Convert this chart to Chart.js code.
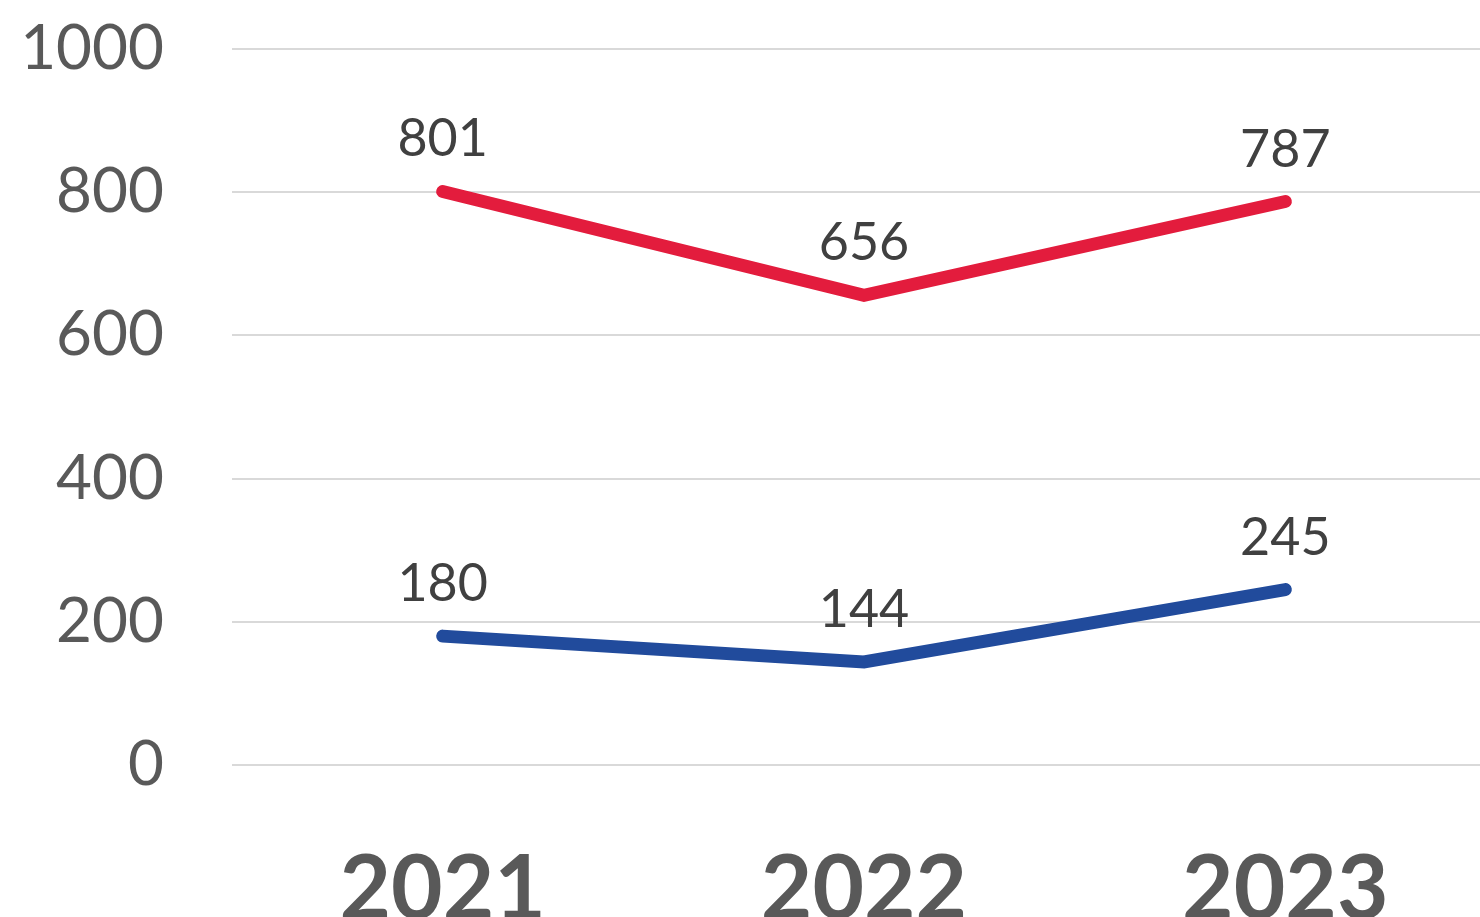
<!DOCTYPE html>
<html>
<head>
<meta charset="utf-8">
<script src="https://cdn.jsdelivr.net/npm/chart.js@4"></script>
<style>
  html, body { margin: 0; padding: 0; background: #fff; overflow: hidden; }
  #wrap { width: 1496px; height: 917px; }
</style>
</head>
<body>
<div id="wrap"><canvas id="trendChart"></canvas></div>
<script>
// Yearly values for the two series
const years = ['2021', '2022', '2023'];
const redValues = [801, 656, 787];
const blueValues = [180, 144, 245];
const yTicks = [0, 200, 400, 600, 800, 1000];

// Draws the value of each point just above it
const pointLabels = {
    id: 'pointLabels',
    afterDatasetsDraw(chart) {
        const ctx = chart.ctx;
        ctx.save();
        ctx.font = '52px Lato';
        ctx.fillStyle = '#404040';
        ctx.textAlign = 'center';
        ctx.textBaseline = 'alphabetic';
        chart.data.datasets.forEach((ds, i) => {
            chart.getDatasetMeta(i).data.forEach((pt, j) => {
                ctx.fillText(String(ds.data[j]), pt.x, pt.y - 35);
            });
        });
        ctx.restore();
    }
};

const ctx = document.getElementById('trendChart');

new Chart(ctx, {
    type: 'line',
    data: {
        labels: years,
        datasets: [{
            data: redValues,
            borderColor: '#E31C3D',
            borderWidth: 13,
            borderCapStyle: 'round',
            borderJoinStyle: 'miter',
            pointRadius: 0,
            tension: 0
        }, {
            data: blueValues,
            borderColor: '#214B9C',
            borderWidth: 13,
            borderCapStyle: 'round',
            borderJoinStyle: 'miter',
            pointRadius: 0,
            tension: 0
        }]
    },
    options: {
        responsive: true,
        maintainAspectRatio: false,
        animation: false,
        layout: { padding: 0 },
        plugins: {
            legend: { display: false },
            tooltip: { enabled: false }
        },
        scales: {
            x: {
                offset: true,
                grid: { display: false, drawTicks: false },
                border: { display: false },
                ticks: {
                    color: '#595959',
                    font: { family: 'Lato', size: 89, weight: 'bold' },
                    padding: 72,
                    maxRotation: 0
                },
                afterFit(scale) { scale.height = 152; }
            },
            y: {
                min: 0,
                max: 1000,
                afterBuildTicks(scale) {
                    scale.ticks = yTicks.map(v => ({ value: v }));
                },
                grid: { color: '#D9D9D9', lineWidth: 2, drawTicks: false },
                border: { display: false },
                ticks: {
                    color: '#595959',
                    font: { family: 'Lato', size: 62 },
                    padding: 68,
                    callback: v => String(v)
                },
                afterFit(scale) {
                    scale.width = 232;
                    // keep the plot top at the 1000 gridline position
                    scale.paddingTop = 49;
                    scale.paddingBottom = 0;
                }
            }
        }
    },
    plugins: [pointLabels]
});
</script>
</body>
</html>
